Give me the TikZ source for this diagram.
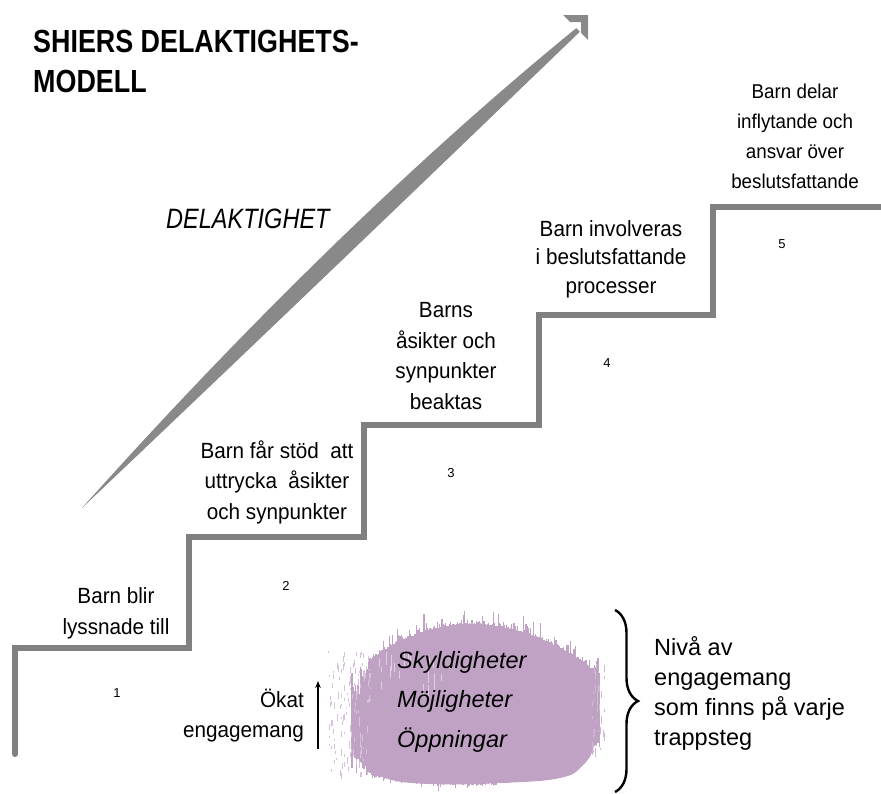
\documentclass[tikz,border=0pt]{standalone}
\usepackage{fontspec}
\setmainfont{Liberation Sans}
\newfontfamily\stepfont[FakeStretch=0.94]{Liberation Sans}
\newfontfamily\titlefont[FakeStretch=0.84]{Liberation Sans}
\usetikzlibrary{arrows.meta,decorations.pathreplacing}
\definecolor{stairgray}{RGB}{128,128,128}
\definecolor{arrowgray}{RGB}{137,137,137}
\definecolor{blobpurple}{RGB}{192,162,196}
\tikzset{
  stairline/.style={draw=stairgray, line width=6pt, line cap=round, line join=miter},
  steptext/.style={align=center, anchor=base, inner sep=0pt, font=\stepfont\fontsize{22}{30.5}\selectfont},
  steptextsmall/.style={align=center, anchor=base, inner sep=0pt, font=\stepfont\fontsize{20}{30}\selectfont},
  numlabel/.style={inner sep=0pt, font=\fontsize{13}{15}\selectfont},
  titletext/.style={align=left, anchor=base west, inner sep=0pt, font=\titlefont\bfseries\fontsize{32}{40}\selectfont},
  bigitalic/.style={anchor=base west, inner sep=0pt, font=\titlefont\itshape\fontsize{28}{32}\selectfont},
  blobtext/.style={align=left, anchor=base west, inner sep=0pt, font=\itshape\fontsize{23.5}{39.5}\selectfont},
  sidetext/.style={align=left, anchor=base west, inner sep=0pt, font=\fontsize{23.5}{30}\selectfont},
  engtext/.style={align=right, anchor=base east, inner sep=0pt, font=\stepfont\fontsize{22}{30}\selectfont},
  uparrow/.style={draw=black, line width=1.3pt, -{Stealth[length=7pt,width=5.5pt]}},
  bracestyle/.style={draw=black, line width=2.4pt, decorate, decoration={brace, amplitude=23pt}},
}
\begin{document}
\begin{tikzpicture}[x=1pt, y=-1pt]
\useasboundingbox (0,0) rectangle (881,793);
\fill[white] (0,0) rectangle (881,793);

% title
\node[titletext] (title) at (33,92) {SHIERS DELAKTIGHETS-\\MODELL};

% big curved tapered arrow
\fill[arrowgray] (82,508) .. controls (243,328) and (412,162) .. (576.2,28.2)
  -- (579.8,31.8) .. controls (428,178) and (257,342) .. (82,508) -- cycle;
\fill[arrowgray] (563,15) -- (588,15) -- (588,40) -- (581,33) -- (581,22) -- (570,22) -- cycle;
\node[bigitalic] (delak) at (166,228) {DELAKTIGHET};

% stairs
\draw[stairline] (15,754) -- (15,648) -- (189,648) -- (189,537) -- (364,537) -- (364,425) -- (539,425) -- (539,315) -- (713,315) -- (713,207) -- (890,207);

% step texts (anchor = baseline of last line)
\node[steptext] (s1) at (116,634) {Barn blir\\lyssnade till};
\node[steptext] (s2) at (277,519) {Barn får stöd\ \ att\\uttrycka\ \ åsikter\\och synpunkter};
\node[steptext] (s3) at (446,409) {Barns\\åsikter och\\synpunkter\\beaktas};
\node[steptext, font=\stepfont\fontsize{22}{28.5}\selectfont] (s4) at (611,293) {Barn involveras\\i beslutsfattande\\processer};
\node[steptextsmall] (s5) at (795,188) {Barn delar\\inflytande och\\ansvar över\\beslutsfattande};

% step numbers
\node[numlabel] (n1) at (117,693) {1};
\node[numlabel] (n2) at (286,586) {2};
\node[numlabel] (n3) at (451,473) {3};
\node[numlabel] (n4) at (607,363) {4};
\node[numlabel] (n5) at (782,244) {5};

% purple blob
\begin{scope}
\pgfmathsetseed{4242}
\fill[blobpurple] plot[smooth cycle, tension=0.7] coordinates {(366,700) (375,668) (398,648) (433,634) (470,628) (508,632) (542,642) (572,655) (592,672) (596,710) (594,745) (583,765) (560,778) (500,783) (430,784) (385,778) (366,762) (362,730)};
\foreach \xx in {352,353.2,...,600}{
  \pgfmathsetmacro\dd{(\xx-470)/10}
  \pgfmathsetmacro\ct{\xx<470 ? 0.36 : 0.30}
  \pgfmathsetmacro\cb{\xx<470 ? 0.09 : 0.25}
  \pgfmathsetmacro\lf{max(0,(374-\xx)/22)}
  \pgfmathsetmacro\tp{620+\ct*\dd*\dd + 4 - 26*rnd*rnd*rnd + \lf*40*rnd}
  \pgfmathsetmacro\bt{786-\cb*\dd*\dd - 2 + 9*rnd*rnd*rnd - \lf*25*rnd}
  \draw[blobpurple, line width=1.3pt] (\xx,\tp) -- (\xx,\bt);
}
\foreach \k in {1,...,130}{
  \pgfmathsetmacro\sx{328+42*rnd}
  \pgfmathsetmacro\sy{650+125*rnd}
  \pgfmathsetmacro\sl{1.5+6*rnd}
  \draw[blobpurple!65, line width=0.8pt] (\sx,\sy) -- (\sx,\sy+\sl);
}
\foreach \k in {1,...,35}{
  \pgfmathsetmacro\sx{592+13*rnd}
  \pgfmathsetmacro\sy{662+95*rnd}
  \pgfmathsetmacro\sl{2+6*rnd}
  \draw[blobpurple!75, line width=0.9pt] (\sx,\sy) -- (\sx,\sy+\sl);
}
\foreach \k in {1,...,18}{
  \pgfmathsetmacro\sx{372+70*rnd}
  \pgfmathsetmacro\sy{645+40*rnd}
  \pgfmathsetmacro\sl{4+14*rnd}
  \draw[white, opacity=0.5, line width=0.8pt] (\sx,\sy) -- (\sx,\sy+\sl);
}
\end{scope}
\node[blobtext] (levels) at (397,747) {Skyldigheter\\Möjligheter\\Öppningar};

% increased engagement
\node[engtext] (okat) at (304,737) {Ökat\\engagemang};
\coordinate (ua) at (318,749);
\coordinate (ub) at (318,681);
\draw[uparrow] (ua) -- (ub);

% brace and side text
\coordinate (bt) at (615,610);
\coordinate (bb) at (615,792);
\draw[bracestyle] (bt) -- (bb);
\node[sidetext] (side) at (654,745) {Nivå av\\engagemang\\som finns på varje\\trappsteg};
\end{tikzpicture}
\end{document}
